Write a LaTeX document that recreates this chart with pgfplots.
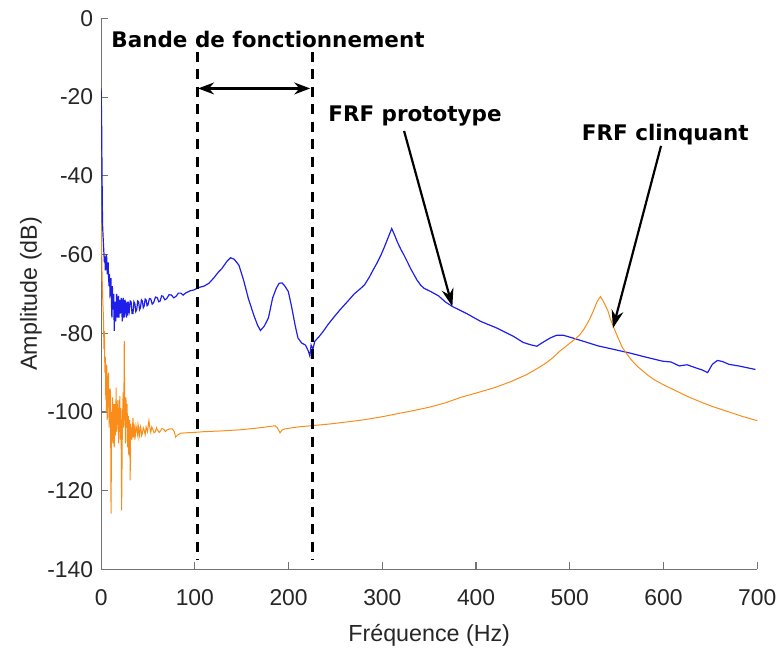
\documentclass[border=0pt]{standalone}
\usepackage{pgfplots}
\pgfplotsset{compat=1.18}
\usepackage{fontspec}
\setmainfont{Liberation Sans}
\newfontfamily\annfont{DejaVu Sans}
\usetikzlibrary{arrows.meta}

\definecolor{frfblue}{RGB}{30,30,235}
\definecolor{frforange}{RGB}{250,140,25}
\definecolor{axgray}{RGB}{115,115,115}
\definecolor{txtdark}{RGB}{38,38,38}

% FRF du prototype (Hz, dB)
\pgfplotstableread{
x y
0 -17.8
0.5 -25
1 -40
1.5 -52
2 -55
3 -59.7
3.5 -62
4 -60.5
4.5 -64
5 -63
5.5 -60
6 -61
6.5 -65
7 -64.3
7.5 -62
8 -66
8.5 -68
9 -65
9.5 -70
10 -69.4
10.5 -66
11 -72
11.5 -76
12 -68
12.5 -73
13 -74
13.5 -70
14 -79.4
14.5 -73
15 -72
15.5 -77
16 -75
16.5 -70
17 -71
17.5 -76
18 -73
18.5 -70.5
19 -76
19.5 -74
20 -71.5
20.5 -75
21 -74
21.5 -71
22 -72
22.5 -77
23 -75.5
23.5 -71
24 -72
24.5 -76
25 -74.5
25.5 -71.5
26 -72.5
26.5 -75
27 -76
27.5 -72
28 -73.6
28.5 -75.5
29 -72
29.5 -74
30 -74.5
31 -71.8
32 -72
33 -75
34 -75
35 -72
36 -72.5
37 -74.5
38 -74
39 -71.8
40 -72
41 -74
42 -73.5
43 -71.5
44 -71.8
45 -73.5
46 -73
47 -71.3
48 -71.5
49 -73
50 -72.8
51.5 -71.2
53 -71.3
54.5 -72.6
56 -72.2
58 -70.8
60 -71
61.5 -72
63 -71.8
64.5 -70.5
66 -70.6
68 -71.5
70 -71.2
72.5 -70.2
75 -70.3
77.5 -71
80 -70.6
82.5 -69.8
85 -69.8
87.5 -70.3
90 -69.8
95 -69.2
99 -69
104 -68.4
110 -68
115 -67.3
120 -66
125 -64.5
129 -63.5
134 -61.8
138 -60.8
142 -61.2
147 -62.7
152 -66.5
157 -71.1
163 -75.5
167 -78
170 -79.3
174 -78.2
178.5 -76.1
183 -71
187 -68.5
190 -67.3
193 -67.2
196 -68
199.7 -69.4
203 -73
207 -78
210 -81.2
214 -82.5
218 -83
221 -84.5
222.7 -85.8
224 -83
226 -84
228 -82
232 -81
237 -79.5
242 -77.8
248 -76
255 -74
263 -71.9
270 -70
276 -68.8
281 -67.7
286 -65.8
290 -64
294 -62.3
298.6 -60.1
302 -58.2
306 -55.8
310 -53.4
313 -55
316 -56.8
320 -58.8
323 -60.1
327 -62
330 -63.5
334 -65.2
337 -66.5
341 -67.8
344.6 -68.6
351.6 -69.4
360 -70.5
367 -72
374.7 -73.2
390 -75
405 -77
422.4 -78.7
440 -80.8
450 -82.3
457.7 -82.9
464.8 -83.3
470 -82.5
479 -81.2
486 -80.5
493 -80.5
503 -81.2
514 -82
530 -83.2
545 -84
563.7 -85
580 -86
599 -87.1
608 -87.3
616.7 -88.3
625 -88
634.5 -88.8
641 -89.3
647 -90
652 -87.9
657.5 -86.9
663 -87.2
669.8 -87.9
680 -88.3
690 -88.8
698 -89.2
}\prototype

% FRF du clinquant (Hz, dB)
\pgfplotstableread{
x y
0 -52
0.5 -58
1 -65
1.7 -71
2.5 -76
3 -84
3.5 -79.4
4 -90
4.5 -86
5 -97
5.3 -92
5.7 -100
6 -88
6.5 -102
7 -97
7.5 -91
8 -90
8.5 -104
9 -101
9.5 -94
10 -95
10.6 -125.8
11.3 -100
11.8 -106
12.3 -96.3
12.7 -108
13 -104
13.5 -98
14 -109
14.5 -100
15 -98
15.5 -106
16 -93.8
16.5 -105
17 -103
17.5 -99
18 -97
18.7 -108
19.4 -100.6
20 -96
20.5 -107
21.2 -99
21.9 -125
22.7 -103
23.5 -95
24.1 -104
24.7 -82
25.2 -100
25.5 -99
26 -108
26.5 -96.3
27 -102
27.3 -104
27.8 -98
28.2 -109
29 -101
29.5 -111
30 -108
30.5 -102
31 -117.4
31.5 -103
32 -104
32.8 -107
33.5 -103.9
34 -101.5
34.5 -106.5
35 -103
35.5 -104
36 -107
36.5 -106
37.2 -103.5
38 -104.5
38.8 -105.6
39.4 -103.2
40 -104
40.5 -106.5
41 -106
41.8 -103.6
42.5 -104.2
43.2 -106
44 -105.5
45 -104
46 -104.7
47 -105.8
48 -103.8
49.5 -105
50.3 -103.5
51 -102.2
52 -104
53 -105.2
54 -103.8
55 -104.3
56.5 -105.3
58 -105
59 -104
60 -104.5
62 -105.2
63.6 -104.7
65 -104.2
67 -104.4
68.5 -105
70 -104.6
73 -104.3
76 -104.3
78 -105
79.5 -106.4
82 -105.8
84.8 -105.4
90 -105.3
99 -105.2
110 -105
130 -104.8
150 -104.5
170 -104
185.6 -103.5
188 -104
190.9 -105.3
193 -104.6
196 -104.3
210 -103.8
242 -103.1
260 -102.6
280 -102
300 -101.2
312.8 -100.6
330 -99.8
350 -98.8
367 -97.7
383.5 -96.3
400 -95.2
420 -93.8
437 -92.3
454 -90.5
465 -89
475 -87.5
482 -86.2
489.5 -84.5
495 -83.5
500 -82.5
505 -81.6
510.7 -80.4
515 -79
518 -77.8
522 -76
525 -74.4
529 -72
532.7 -70.7
536 -72
538.5 -73.2
540.8 -74.4
543 -76.2
546 -78
549 -79.8
553 -82
556 -83.6
560 -85
564 -86.3
568 -87.4
573 -88.6
578 -89.6
584 -90.8
590 -91.8
600 -93.1
613 -94.6
626 -96.1
640 -97.5
652 -98.6
666 -99.7
685 -101.2
700 -102.2
}\clinquant

\begin{document}
\begin{tikzpicture}
\begin{axis}[
    scale only axis,
    width=330pt, height=277.1pt,
    xmin=0, xmax=700, ymin=-140, ymax=0,
    xtick={0,100,...,700},
    ytick={-140,-120,...,0},
    axis x line*=bottom, axis y line*=left,
    axis line style={axgray, line width=0.6pt, -},
    tick align=inside,
    major tick length=3.5pt,
    tick style={axgray, line width=0.6pt},
    /pgf/number format/assume math mode=true,
    ticklabel style={font=\fontsize{11.5}{13}\selectfont, text=txtdark},
    xticklabel style={yshift=-6.5pt},
    yticklabel style={xshift=-0.5pt},
    xlabel={Fréquence (Hz)},
    ylabel={Amplitude (dB)},
    label style={font=\fontsize{11.7}{14}\selectfont, text=txtdark},
    xlabel style={at={(axis description cs:0.5,-0.12)}, anchor=center},
    ylabel style={at={(axis description cs:-0.107,0.5)}, anchor=center},
]
\addplot[frfblue, line width=0.6pt] table {\prototype};
\addplot[frforange, line width=0.5pt] table {\clinquant};

% bande de fonctionnement
\addplot[black, line width=1.4pt, dash pattern=on 5pt off 3.8pt] coordinates {(103,-8.5) (103,-137.5)};
\addplot[black, line width=1.4pt, dash pattern=on 5pt off 3.8pt] coordinates {(225.5,-8.5) (225.5,-137.5)};
\draw[black, line width=1.1pt, {Stealth[length=8pt,width=6pt]}-{Stealth[length=8pt,width=6pt]}]
    (axis cs:103.5,-17.8) -- (axis cs:223,-17.8);

\node[anchor=base west, inner sep=0pt, font=\annfont\bfseries\fontsize{10.8}{13}\selectfont]
    at (axis cs:10.6,-7.4) {Bande de fonctionnement};
\node[anchor=base west, inner sep=0pt, font=\annfont\bfseries\fontsize{10.8}{13}\selectfont]
    at (axis cs:242,-26.1) {FRF prototype};
\node[anchor=base west, inner sep=0pt, font=\annfont\bfseries\fontsize{10.8}{13}\selectfont]
    at (axis cs:512.5,-30.9) {FRF clinquant};

\draw[black, line width=1.1pt, -{Stealth[length=9pt,width=6pt]}]
    (axis cs:323.2,-28.6) -- (axis cs:374.7,-73.2);
\draw[black, line width=1.1pt, -{Stealth[length=9pt,width=6pt]}]
    (axis cs:597.3,-32.4) -- (axis cs:546,-78.7);
\end{axis}
\path[use as bounding box] (-50.85pt,-35.15pt) rectangle (340.65pt,286.35pt);
\end{tikzpicture}
\end{document}
